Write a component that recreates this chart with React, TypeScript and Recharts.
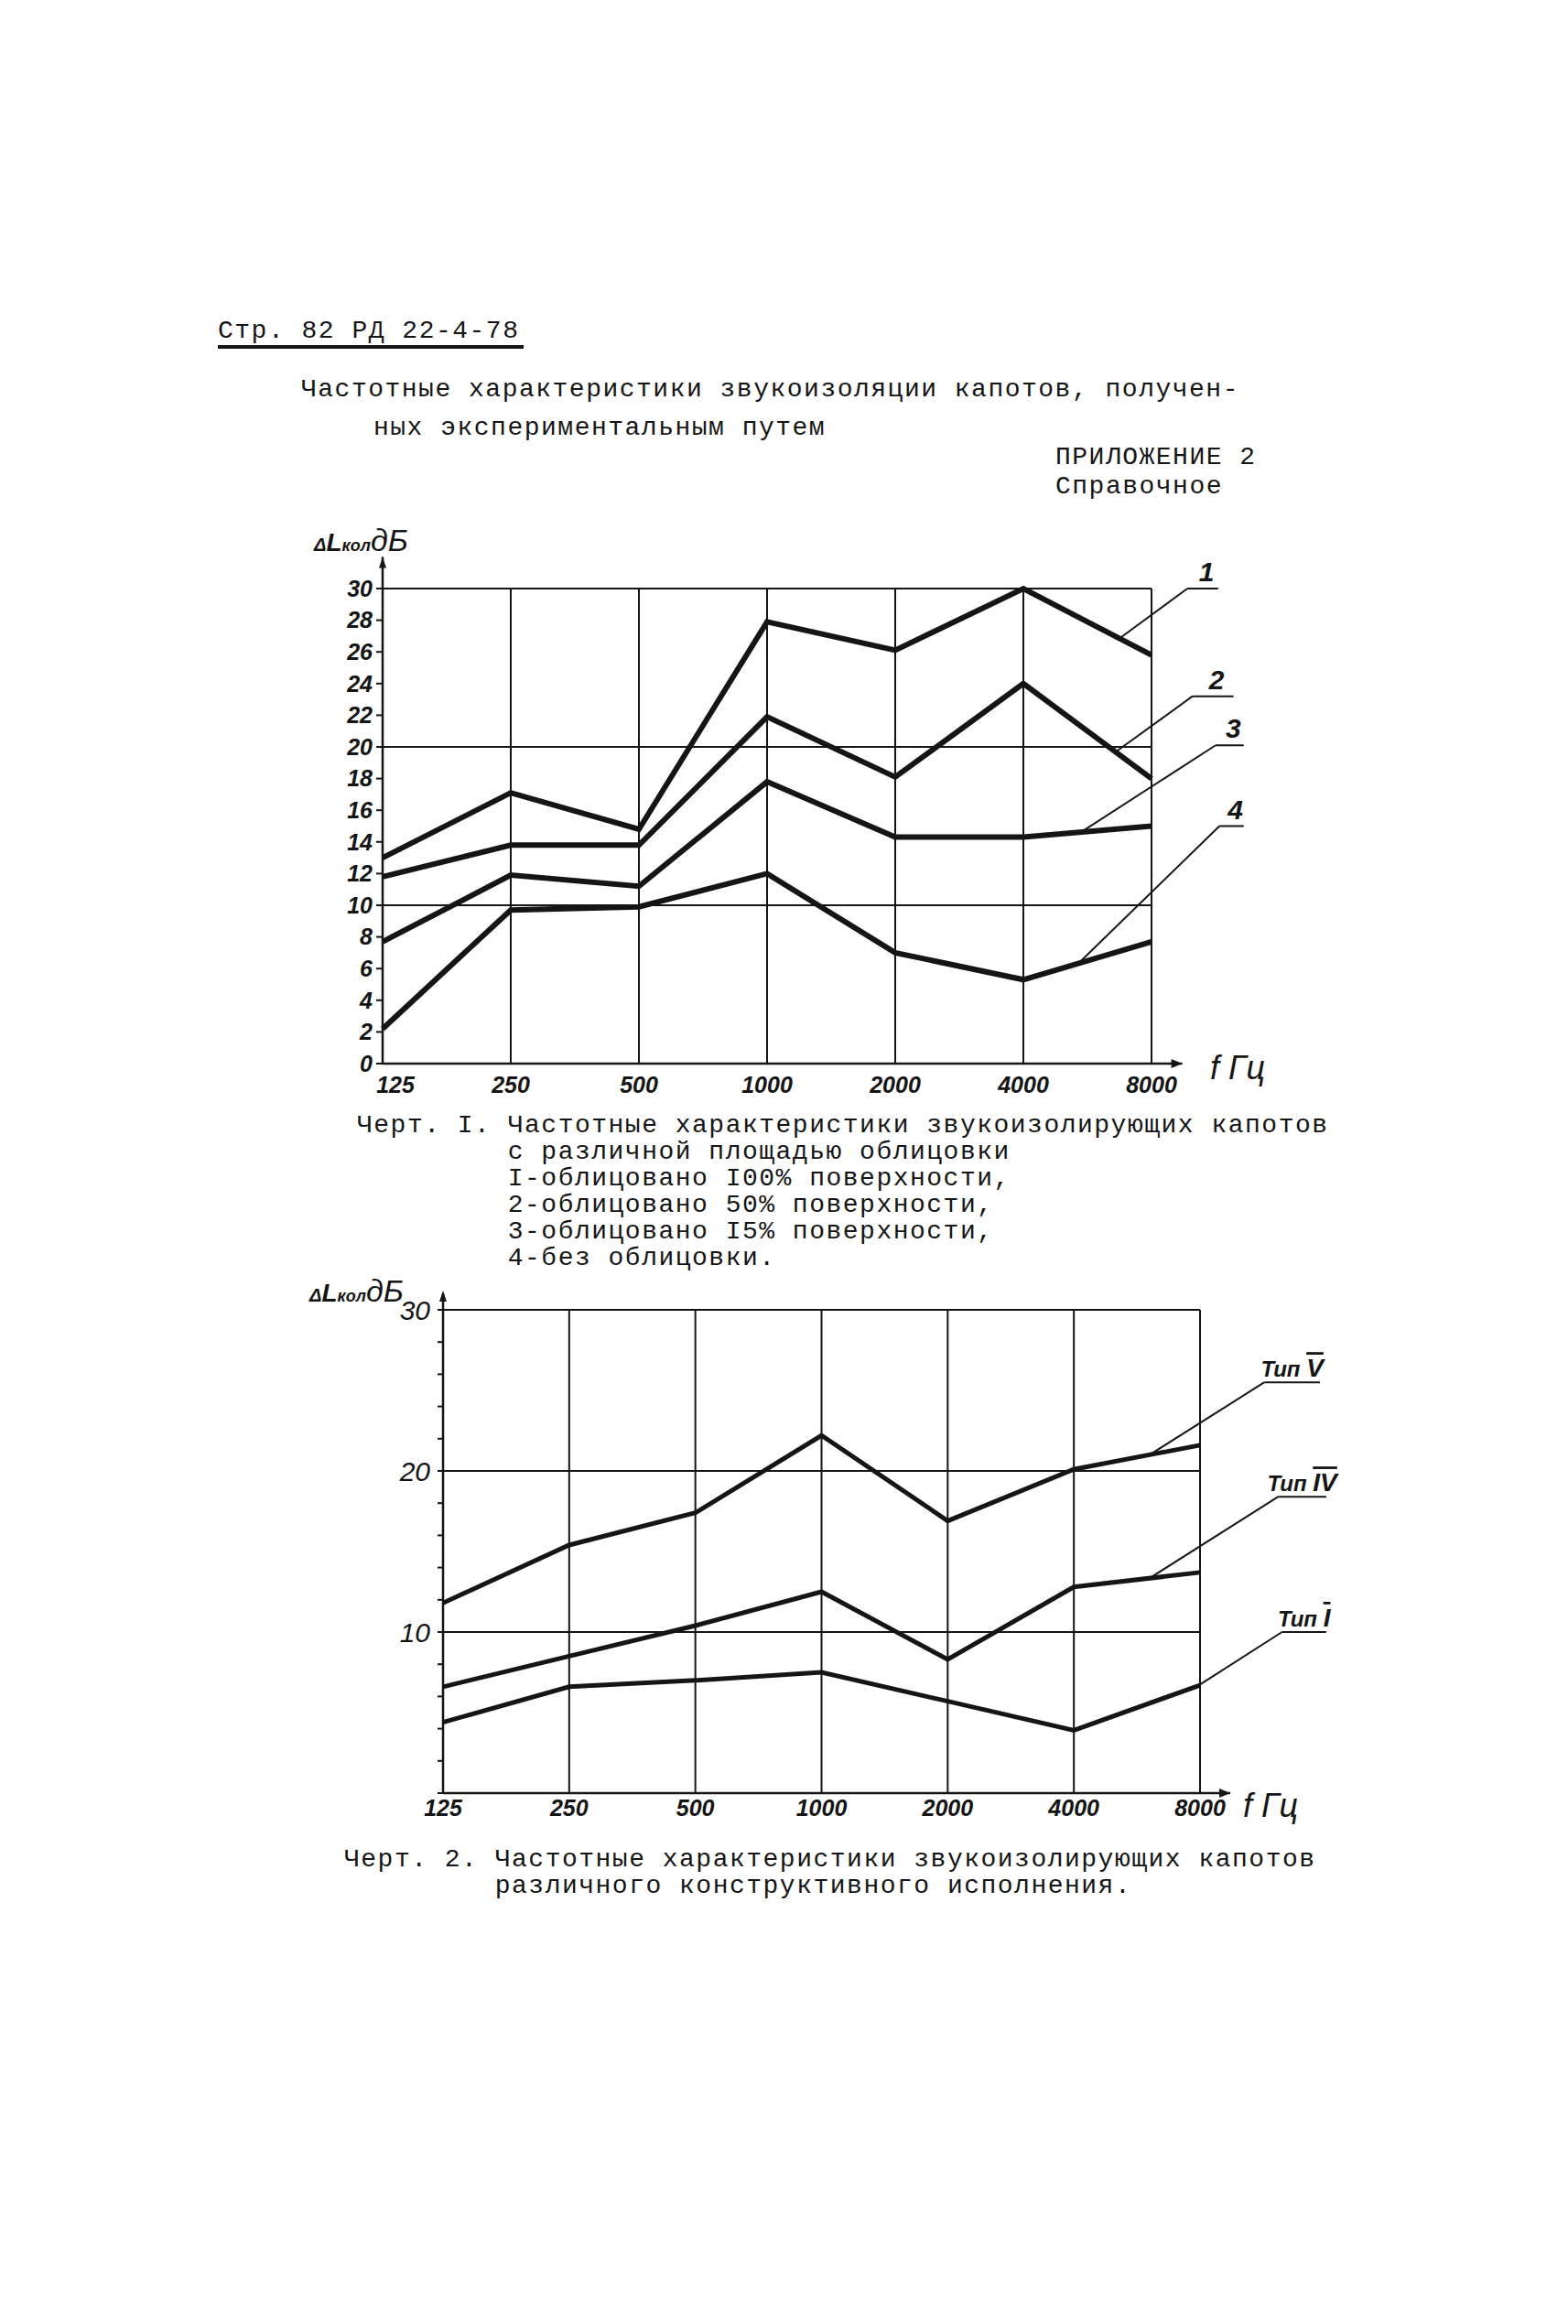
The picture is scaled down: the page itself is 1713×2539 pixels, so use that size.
import type { ReactNode } from "react";
import {
  Line,
  LineChart,
  ReferenceDot,
  ReferenceLine,
  XAxis,
  YAxis,
} from "recharts";

const FREQS = ["125", "250", "500", "1000", "2000", "4000", "8000"];
const X_IDX = [0, 1, 2, 3, 4, 5, 6];

// Черт. 1 - different lining area
const COVER_100 = [13.0, 17.1, 14.8, 27.9, 26.1, 30.0, 25.8];
const COVER_50 = [11.8, 13.8, 13.8, 21.9, 18.1, 24.0, 18.0];
const COVER_15 = [7.7, 11.9, 11.2, 17.8, 14.3, 14.3, 15.0];
const NO_COVER = [2.2, 9.7, 9.9, 12.0, 7.0, 5.3, 7.7];

// Черт. 2 - different hood design
const TYPE_V = [11.8, 15.4, 17.4, 22.2, 16.9, 20.1, 21.6];
const TYPE_IV = [6.6, 8.5, 10.4, 12.5, 8.3, 12.8, 13.7];
const TYPE_I = [4.4, 6.6, 7.0, 7.5, 5.7, 3.9, 6.7];

const Y_TICKS = [0, 2, 4, 6, 8, 10, 12, 14, 16, 18, 20, 22, 24, 26, 28, 30];
const Y_LABELS_2 = [10, 20, 30];
const GRID_Y = [10, 20, 30];

const INK = "#151515";

const data1 = X_IDX.map((i) => ({
  x: i,
  s1: COVER_100[i],
  s2: COVER_50[i],
  s3: COVER_15[i],
  s4: NO_COVER[i],
}));

const data2 = X_IDX.map((i) => ({
  x: i,
  v: TYPE_V[i],
  iv: TYPE_IV[i],
  i1: TYPE_I[i],
}));

// value of a broken line at a fractional category position
const interp = (vals: number[], x: number) => {
  const i = Math.min(Math.floor(x), vals.length - 2);
  return vals[i] + (vals[i + 1] - vals[i]) * (x - i);
};

type Leader = {
  text: ReactNode;
  series: number[];
  at: number;
  elbow: [number, number];
  tail: number;
};

const leaders1: Leader[] = [
  { text: "1", series: COVER_100, at: 5.75, elbow: [6.28, 30.0], tail: 6.52 },
  { text: "2", series: COVER_50, at: 5.72, elbow: [6.32, 23.2], tail: 6.64 },
  { text: "3", series: COVER_15, at: 5.45, elbow: [6.5, 20.1], tail: 6.72 },
  { text: "4", series: NO_COVER, at: 5.43, elbow: [6.53, 15.0], tail: 6.72 },
];

const leaders2: Leader[] = [
  { text: "V", series: TYPE_V, at: 5.6, elbow: [6.51, 25.5], tail: 6.95 },
  { text: "IV", series: TYPE_IV, at: 5.6, elbow: [6.62, 18.4], tail: 7.0 },
  { text: "I", series: TYPE_I, at: 5.98, elbow: [6.65, 10.0], tail: 7.0 },
];

const renderLeaders = (list: Leader[], prefix: string, withType: boolean) =>
  list.flatMap((l, k) => [
    <ReferenceLine
      key={`${prefix}a${k}`}
      segment={[
        { x: l.at, y: interp(l.series, l.at) },
        { x: l.elbow[0], y: l.elbow[1] },
      ]}
      stroke={INK}
      strokeWidth={2}
      ifOverflow="visible"
    />,
    <ReferenceLine
      key={`${prefix}b${k}`}
      segment={[
        { x: l.elbow[0], y: l.elbow[1] },
        { x: l.tail, y: l.elbow[1] },
      ]}
      stroke={INK}
      strokeWidth={2}
      ifOverflow="visible"
    />,
    <ReferenceDot
      key={`${prefix}c${k}`}
      x={(l.elbow[0] + l.tail) / 2}
      y={l.elbow[1]}
      ifOverflow="visible"
      shape={(p: any) =>
        withType ? (
          <text
            x={p.cx}
            y={p.cy - 6}
            textAnchor="middle"
            fontFamily="Liberation Sans"
            fontStyle="italic"
            fontWeight="bold"
            fontSize={24}
            fill={INK}
          >
            Тип{" "}
            <tspan textDecoration="overline" fontSize={28}>
              {l.text}
            </tspan>
          </text>
        ) : (
          <text
            x={p.cx + 4}
            y={p.cy - 8}
            textAnchor="middle"
            fontFamily="Liberation Sans"
            fontStyle="italic"
            fontWeight="bold"
            fontSize={30}
            fill={INK}
          >
            {l.text}
          </text>
        )
      }
    />,
  ]);

const arrowRight = (p: any) => (
  <path
    d={`M${p.cx - 12},${p.cy - 5}L${p.cx},${p.cy}L${p.cx - 12},${p.cy + 5}Z`}
    fill={INK}
  />
);
const arrowUp = (p: any) => (
  <path
    d={`M${p.cx - 4},${p.cy + 12}L${p.cx},${p.cy}L${p.cx + 4},${p.cy + 12}Z`}
    fill={INK}
  />
);

// typewriter text, top given for a 29px line box
const typed = (left: number, top: number): React.CSSProperties => ({
  position: "absolute",
  left,
  top,
  fontFamily: '"Liberation Mono", monospace',
  fontSize: 28,
  letterSpacing: 1.5,
  lineHeight: "29px",
  whiteSpace: "pre",
  color: INK,
});

const hand: React.CSSProperties = {
  position: "absolute",
  fontFamily: "Liberation Sans",
  fontStyle: "italic",
  fontWeight: "bold",
  color: INK,
  whiteSpace: "nowrap",
};

const tick1 = {
  fontSize: 25,
  fontStyle: "italic",
  fontWeight: "bold",
  fontFamily: "Liberation Sans",
  fill: INK,
};

const tick2 = {
  fontSize: 30,
  fontStyle: "italic",
  fontFamily: "Liberation Sans",
  fill: INK,
};

// x tick of chart 1: the first label sits a little right of the axis, as drawn
const FreqTick1 = (p: any) => (
  <text
    x={p.x + (p.payload.value === 0 ? 14 : 0)}
    y={p.y}
    dy="0.71em"
    textAnchor="middle"
    {...tick1}
  >
    {FREQS[p.payload.value]}
  </text>
);

const YLabel = ({ left, top }: { left: number; top: number }) => (
  <div style={{ ...hand, left, top, fontSize: 28 }}>
    <span style={{ fontSize: 20 }}>Δ</span>L
    <span style={{ fontSize: 18 }}>кол</span>
    <span style={{ fontSize: 34, fontWeight: "normal" }}>дБ</span>
  </div>
);

const App = () => {
  return (
    <div
      style={{
        position: "absolute",
        left: 0,
        top: 0,
        width: 1713,
        height: 2539,
        background: "#fff",
        overflow: "hidden",
      }}
    >
      <div style={typed(238, 347)}>Стр. 82 РД 22-4-78</div>
      <div
        style={{
          position: "absolute",
          left: 238,
          top: 377,
          width: 334,
          height: 4,
          background: INK,
        }}
      />
      <div style={typed(329, 411)}>
        Частотные характеристики звукоизоляции капотов, получен-
      </div>
      <div style={typed(408, 453)}>ных экспериментальным путем</div>
      <div style={typed(1153, 485)}>ПРИЛОЖЕНИЕ 2</div>
      <div style={typed(1153, 517)}>Справочное</div>

      {/* Черт. 1 */}
      <YLabel left={343} top={571} />
      <div style={{ ...hand, left: 1322, top: 1146, fontSize: 36, fontWeight: "normal" }}>
        f Гц
      </div>
      <div style={{ position: "absolute", left: 300, top: 560 }}>
        <LineChart
          width={1200}
          height={680}
          data={data1}
          margin={{ top: 83, right: 242, bottom: 38, left: 58 }}
        >
          <XAxis
            dataKey="x"
            type="number"
            domain={[0, 6]}
            ticks={X_IDX}
            height={40}
            tickSize={0}
            tickMargin={14}
            axisLine={{ stroke: INK, strokeWidth: 2.5 }}
            tick={FreqTick1}
          />
          <YAxis
            type="number"
            domain={[0, 30]}
            ticks={Y_TICKS}
            width={60}
            tickSize={7}
            tickMargin={4}
            interval={0}
            axisLine={{ stroke: INK, strokeWidth: 2.5 }}
            tickLine={{ stroke: INK, strokeWidth: 2 }}
            tick={tick1}
          />
          {GRID_Y.map((y) => (
            <ReferenceLine key={`gy${y}`} y={y} stroke={INK} strokeWidth={2} />
          ))}
          {X_IDX.slice(1).map((x) => (
            <ReferenceLine key={`gx${x}`} x={x} stroke={INK} strokeWidth={2} />
          ))}
          <ReferenceLine
            segment={[{ x: 6, y: 0 }, { x: 6.24, y: 0 }]}
            stroke={INK}
            strokeWidth={2.5}
            ifOverflow="visible"
          />
          <ReferenceDot x={6.24} y={0} ifOverflow="visible" shape={arrowRight} />
          <ReferenceLine
            segment={[{ x: 0, y: 30 }, { x: 0, y: 32 }]}
            stroke={INK}
            strokeWidth={2.5}
            ifOverflow="visible"
          />
          <ReferenceDot x={0} y={32} ifOverflow="visible" shape={arrowUp} />
          {renderLeaders(leaders1, "l1", false)}
          {["s1", "s2", "s3", "s4"].map((k) => (
            <Line
              key={k}
              type="linear"
              dataKey={k}
              stroke={INK}
              strokeWidth={6}
              dot={false}
              isAnimationActive={false}
            />
          ))}
        </LineChart>
      </div>
      <div style={typed(390, 1215)}>
        {"Черт. I. Частотные характеристики звукоизолирующих капотов\n" +
          "         с различной площадью облицовки\n" +
          "         I-облицовано I00% поверхности,\n" +
          "         2-облицовано 50% поверхности,\n" +
          "         3-облицовано I5% поверхности,\n" +
          "         4-без облицовки."}
      </div>

      {/* Черт. 2 */}
      <YLabel left={338} top={1391} />
      <div style={{ ...hand, left: 1358, top: 1952, fontSize: 36, fontWeight: "normal" }}>
        f Гц
      </div>
      <div style={{ position: "absolute", left: 380, top: 1380 }}>
        <LineChart
          width={1200}
          height={660}
          data={data2}
          margin={{ top: 51, right: 269, bottom: 41, left: 44 }}
        >
          <XAxis
            dataKey="x"
            type="number"
            domain={[0, 6]}
            ticks={X_IDX}
            tickFormatter={(i: number) => FREQS[i]}
            height={40}
            tickSize={0}
            tickMargin={7}
            axisLine={{ stroke: INK, strokeWidth: 2.5 }}
            tick={tick1}
          />
          <YAxis
            type="number"
            domain={[0, 30]}
            ticks={Y_TICKS}
            width={60}
            tickSize={6}
            tickMargin={8}
            interval={0}
            tickFormatter={(v: number) => (Y_LABELS_2.includes(v) ? String(v) : "")}
            axisLine={{ stroke: INK, strokeWidth: 2.5 }}
            tickLine={{ stroke: INK, strokeWidth: 2 }}
            tick={tick2}
          />
          {GRID_Y.map((y) => (
            <ReferenceLine key={`gy${y}`} y={y} stroke={INK} strokeWidth={2} />
          ))}
          {X_IDX.slice(1).map((x) => (
            <ReferenceLine key={`gx${x}`} x={x} stroke={INK} strokeWidth={2} />
          ))}
          <ReferenceLine
            segment={[{ x: 6, y: 0 }, { x: 6.24, y: 0 }]}
            stroke={INK}
            strokeWidth={2.5}
            ifOverflow="visible"
          />
          <ReferenceDot x={6.24} y={0} ifOverflow="visible" shape={arrowRight} />
          <ReferenceLine
            segment={[{ x: 0, y: 30 }, { x: 0, y: 31 }]}
            stroke={INK}
            strokeWidth={2.5}
            ifOverflow="visible"
          />
          <ReferenceDot x={0} y={31.2} ifOverflow="visible" shape={arrowUp} />
          {renderLeaders(leaders2, "l2", true)}
          {["v", "iv", "i1"].map((k) => (
            <Line
              key={k}
              type="linear"
              dataKey={k}
              stroke={INK}
              strokeWidth={5}
              dot={false}
              isAnimationActive={false}
            />
          ))}
        </LineChart>
      </div>
      <div style={typed(376, 2017)}>
        {"Черт. 2. Частотные характеристики звукоизолирующих капотов\n" +
          "         различного конструктивного исполнения."}
      </div>
    </div>
  );
};

export default App;
